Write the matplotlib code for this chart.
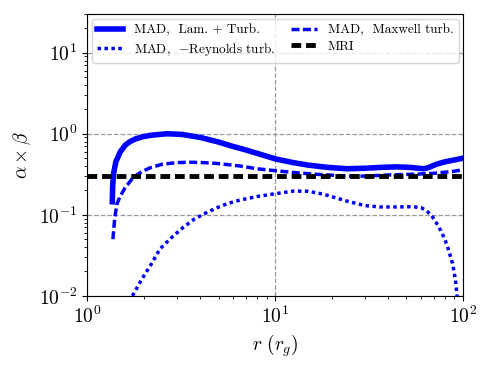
import numpy as np
import matplotlib
matplotlib.use('Agg')
import matplotlib.pyplot as plt

plt.rcParams['font.family'] = 'serif'
plt.rcParams['font.serif'] = ['cmr10']
plt.rcParams['mathtext.fontset'] = 'cm'
plt.rcParams['axes.unicode_minus'] = False
plt.rcParams['axes.formatter.use_mathtext'] = True

# total (laminar + turbulent)
r_tot = [1.36, 1.365, 1.38, 1.42, 1.5, 1.6, 1.69, 1.8, 1.98, 2.2, 2.67, 3.2, 4.0, 5.0, 5.8, 7.0, 8.5, 10,
         12.5, 15, 19, 24, 30, 37, 44, 52, 58, 62, 66, 72, 80, 90, 100]
a_tot = [0.145, 0.22, 0.32, 0.45, 0.6, 0.73, 0.8, 0.86, 0.92, 0.96, 1.0, 0.98, 0.9, 0.79, 0.71, 0.63, 0.55, 0.49,
         0.44, 0.41, 0.385, 0.37, 0.375, 0.385, 0.39, 0.385, 0.375, 0.37, 0.385, 0.42, 0.45, 0.475, 0.5]

# Maxwell stress
r_max = [1.37, 1.4, 1.44, 1.5, 1.59, 1.76, 1.95, 2.16, 2.5, 3.0, 3.5, 4.2, 4.9, 6.5, 8.0, 10, 13, 17, 24,
         30, 40, 50, 61, 70, 80, 90, 100]
a_max = [0.05, 0.09, 0.137, 0.17, 0.215, 0.29, 0.34, 0.38, 0.42, 0.44, 0.445, 0.44, 0.43, 0.4, 0.37, 0.35, 0.33,
         0.315, 0.30, 0.30, 0.31, 0.315, 0.32, 0.325, 0.335, 0.345, 0.36]

# -Reynolds stress
r_rey = [1.74, 1.95, 2.2, 2.44, 2.8, 3.24, 3.7, 4.3, 4.9, 5.55, 6.5, 8.0, 10, 12.5, 15, 18, 24, 30, 36, 45, 54,
         60, 64, 68, 72, 76, 80, 84, 88, 91, 93]
a_rey = [0.01, 0.016, 0.025, 0.038, 0.052, 0.07, 0.088, 0.106, 0.122, 0.137, 0.152, 0.168, 0.182, 0.196, 0.195,
         0.18, 0.148, 0.13, 0.125, 0.125, 0.126, 0.122, 0.112, 0.098, 0.08, 0.064, 0.05, 0.036, 0.025, 0.016, 0.01]

mri_level = 0.3

fig = plt.figure(figsize=(4.9, 3.68), dpi=100)
ax = fig.add_axes([0.178, 0.196, 0.767, 0.766])

ax.plot(r_tot, a_tot, color='b', lw=4, ls='-', label='MAD,  Lam. + Turb.')
ax.plot(r_rey, a_rey, color='b', lw=2.5, ls=(0, (1, 1)), label='MAD,  $-$Reynolds turb.')
ax.plot(r_max, a_max, color='b', lw=2.5, ls=(0, (2.3, 1.0)), label='MAD,  Maxwell turb.')
ax.axhline(mri_level, color='k', lw=3.5, ls=(0, (2.0, 1.0)), label='MRI')

ax.set_xscale('log')
ax.set_yscale('log')
ax.set_xlim(1, 100)
ax.set_ylim(1e-2, 30)
ax.grid(True, which='major', color='gray', ls='--', lw=0.9, alpha=0.8)
ax.tick_params(labelsize=14)
ax.set_xlabel(r'$r\ (r_g)$', fontsize=14)
ax.set_ylabel(r'$\alpha \times \beta$', fontsize=14)

ax.legend(loc='upper center', ncol=2, fontsize=9.5, handlelength=2.0, columnspacing=1.2,
          labelspacing=0.3, borderaxespad=0.4)

plt.savefig('out.png', dpi=100)
